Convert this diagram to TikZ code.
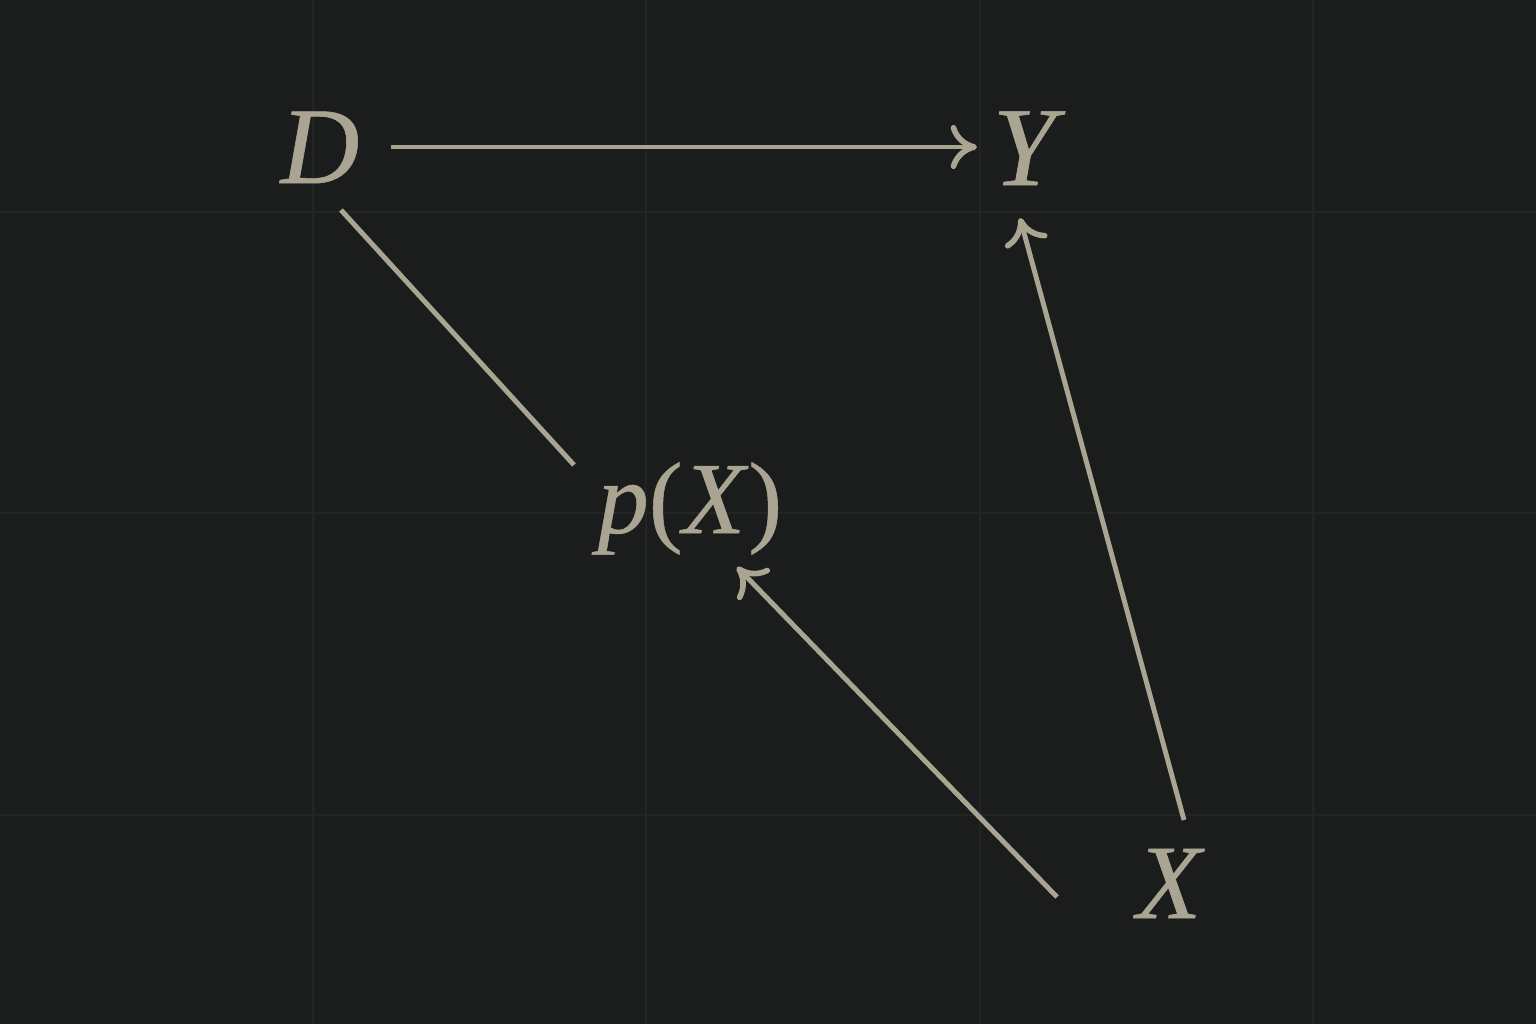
\documentclass[tikz,border=0pt]{standalone}
\usepackage{fontspec}
\setmainfont{Liberation Serif}[FakeBold=0.5]
\usetikzlibrary{arrows.meta,calc}
\definecolor{bg}{HTML}{1B1D1C}
\definecolor{gridc}{HTML}{222523}
\definecolor{ink}{HTML}{A9A592}
\begin{document}
\begin{tikzpicture}[x=0.01cm,y=-0.01cm,
  lbl/.style={text=ink,inner sep=0pt,anchor=base,font=\fontsize{31}{36}\selectfont\itshape},
  conn/.style={draw=ink,line width=1.4pt},
  arr/.style={conn,-{Computer Modern Rightarrow[length=7.5pt,width=12.5pt,line width=1.6pt]}}]
\fill[bg] (0,0) rectangle (1536,1024);
\useasboundingbox (0,0) rectangle (1536,1024);
\foreach \gx in {313,646,980,1313} \draw[gridc,line width=0.4pt] (\gx,0) -- (\gx,1024);
\foreach \gy in {212,513,815} \draw[gridc,line width=0.4pt] (0,\gy) -- (1536,\gy);
\node[lbl] (D) at (320,183) {D};
\node[lbl,font=\fontsize{32}{37}\selectfont\itshape] (Y) at (1024,185) {Y};
\node[lbl,font=\fontsize{29}{34}\selectfont] (pX) at (690,533) {\textit{p}(\textit{X})};
\node[lbl,font=\fontsize{30}{35}\selectfont\itshape] (X) at (1169,918) {X};
\draw[arr] ($(D.base)+(71,-36)$) -- ($(Y.base)+(-47,-38)$);
\draw[conn] ($(D.base)+(21,27)$) -- ($(pX.base)+(-116,-68)$);
\draw[arr] ($(X.base)+(-112,-21)$) -- ($(pX.base)+(47,34)$);
\draw[arr] ($(X.base)+(15,-98)$) -- ($(Y.base)+(-4,33)$);
\end{tikzpicture}
\end{document}
